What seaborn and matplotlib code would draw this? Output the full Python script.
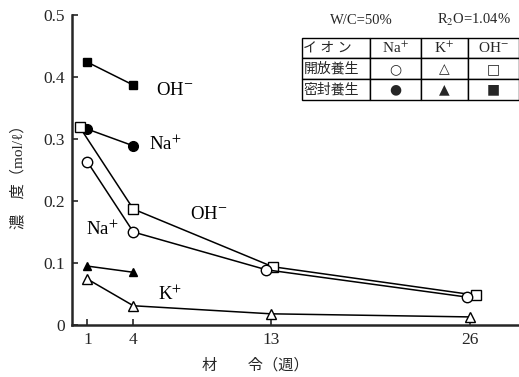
import matplotlib
matplotlib.use("Agg")
import matplotlib.pyplot as plt
import seaborn as sns
import pandas as pd

# weeks and concentrations (mol/l)
weeks_open_na = [1, 4, 12.7, 25.8]
na_open = [0.263, 0.150, 0.089, 0.045]
weeks_open_oh = [0.5, 4, 13.1, 26.4]
oh_open = [0.319, 0.187, 0.094, 0.048]
weeks_open_k = [1, 4, 13, 26]
k_open = [0.074, 0.031, 0.018, 0.013]

weeks_sealed = [1, 4]
na_sealed = [0.316, 0.289]
oh_sealed = [0.424, 0.387]
k_sealed = [0.095, 0.085]

x_ticks = [1, 4, 13, 26]
y_ticks = [0, 0.1, 0.2, 0.3, 0.4, 0.5]
y_tick_labels = ["0", "0.1", "0.2", "0.3", "0.4", "0.5"]

table_rows = [["イ オ ン", "Na$^{+}$", "K$^{+}$", "OH$^{-}$"],
              ["開放養生", "○", "△", "□"],
              ["密封養生", "●", "▲", "■"]]

sns.set_style("ticks")
plt.rcParams["font.family"] = ["Liberation Serif", "Noto Sans CJK JP"]
plt.rcParams["mathtext.fontset"] = "stix"
plt.rcParams["axes.linewidth"] = 1.8

fig = plt.figure(figsize=(5.19, 3.77), dpi=100)
ax = fig.add_axes([0.139, 0.138, 0.861, 0.822])

series = [
    (weeks_sealed, oh_sealed, "s", "black", 6),
    (weeks_sealed, na_sealed, "o", "black", 7),
    (weeks_sealed, k_sealed, "^", "black", 6),
    (weeks_open_oh, oh_open, "s", "white", 7),
    (weeks_open_na, na_open, "o", "white", 7.5),
    (weeks_open_k, k_open, "^", "white", 6.5),
]
for xs, ys, mk, face, ms in series:
    df = pd.DataFrame({"week": xs, "conc": ys})
    sns.lineplot(data=df, x="week", y="conc", ax=ax, color="black", lw=1.1,
                 marker=mk, markersize=ms, markerfacecolor=face,
                 markeredgecolor="black", markeredgewidth=1.0)

ax.set_xlim(0, 29.2)
ax.set_ylim(0, 0.5)
ax.set_xticks(x_ticks)
ax.set_xticklabels([str(t) for t in x_ticks], fontsize=12.5)
ax.set_yticks(y_ticks)
ax.set_yticklabels(y_tick_labels, fontsize=12.5)
ax.tick_params(direction="in", length=4, width=1.2, pad=5)
sns.despine(ax=ax)
ax.set_xlabel("")
ax.set_ylabel("")

fig.text(0.39, 0.032, "材　　令（週）", fontsize=11, ha="left", va="center")
fig.text(0.035, 0.54, "濃　度（mol/ℓ）", fontsize=11, rotation=90,
         ha="center", va="center")

# curve labels
lab = dict(fontsize=13.5, color="black", va="center")
ax.text(5.5, 0.378, "OH$^{-}$", **lab)
ax.text(5.0, 0.292, "Na$^{+}$", **lab)
ax.text(7.7, 0.178, "OH$^{-}$", **lab)
ax.text(0.9, 0.154, "Na$^{+}$", **lab)
ax.text(5.6, 0.05, "K$^{+}$", **lab)

fig.text(0.636, 0.946, "W/C=50%", fontsize=10.5, ha="left", va="center")
fig.text(0.985, 0.946, "R$_2$O=1.04%", fontsize=10.5, ha="right", va="center")

tax = fig.add_axes([0.582, 0.735, 0.418, 0.165])
tax.axis("off")
tbl = tax.table(cellText=table_rows, cellLoc="center",
                colWidths=[0.313, 0.235, 0.217, 0.235], bbox=[0, 0, 1, 1])
tbl.auto_set_font_size(False)
for (r, c), cell in tbl.get_celld().items():
    cell.set_linewidth(1.0)
    cell.set_edgecolor("black")
    if c == 0:
        cell.get_text().set_fontsize(10)
        cell.get_text().set_ha("left")
        cell.PAD = 0.02
    elif r == 0:
        cell.get_text().set_fontsize(11)
    else:
        cell.get_text().set_fontsize(10)
        cell.get_text().set_fontfamily(["DejaVu Sans"])

fig.savefig("out.png", dpi=100)
